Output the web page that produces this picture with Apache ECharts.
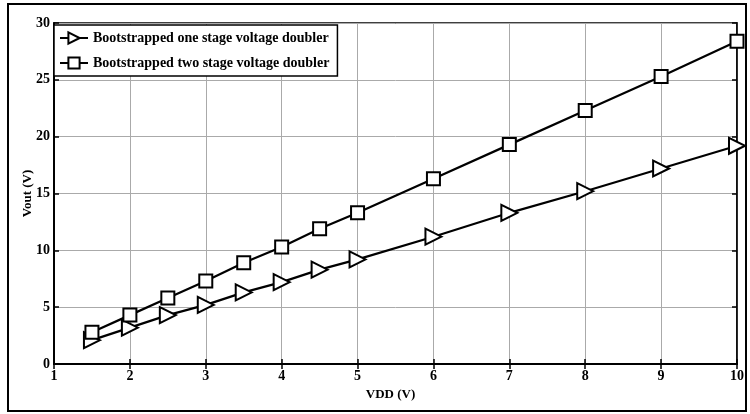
<!DOCTYPE html>
<html><head><meta charset="utf-8">
<script src="https://cdn.jsdelivr.net/npm/echarts@6/dist/echarts.min.js"></script>
<style>html,body{margin:0;padding:0;background:#fff}#c{width:750px;height:414px}</style>
</head><body><div id="c"></div>
<script>
const vdd = [1.5, 2, 2.5, 3, 3.5, 4, 4.5, 5, 6, 7, 8, 9, 10];
const oneStage = [2.1, 3.2, 4.3, 5.2, 6.3, 7.2, 8.3, 9.2, 11.2, 13.3, 15.2, 17.2, 19.2];
const twoStage = [2.8, 4.3, 5.8, 7.3, 8.9, 10.3, 11.9, 13.3, 16.3, 19.3, 22.3, 25.3, 28.4];
const seriesNames = ['Bootstrapped one stage voltage doubler', 'Bootstrapped two stage voltage doubler'];
const xName = 'VDD (V)';
const yName = 'Vout (V)';

const font = 'Liberation Serif';
const chart = echarts.init(document.getElementById('c'), null, {renderer: 'canvas'});
const gridLine = {show: true, lineStyle: {color: '#aaa', width: 1, type: 'solid'}};
chart.setOption({
  animation: false,
  backgroundColor: '#fff',
  graphic: [{type: 'rect', shape: {x: 8, y: 4, width: 738, height: 407}, style: {fill: 'none', stroke: '#000', lineWidth: 2}, z: 100}],
  grid: {left: 54, right: 13, top: 23, bottom: 50, show: true, borderColor: '#000', borderWidth: 1.5},
  legend: {
    orient: 'vertical', left: 54, top: 25, data: seriesNames,
    backgroundColor: '#fff', borderColor: '#000', borderWidth: 1.5, borderRadius: 0,
    padding: [6, 8, 6, 5], itemGap: 11, itemWidth: 28, itemHeight: 14,
    textStyle: {fontFamily: font, fontWeight: 'bold', fontSize: 14, color: '#000'}
  },
  xAxis: [{
    type: 'value', min: 1, max: 10, interval: 1,
    name: xName, nameLocation: 'middle', nameGap: 24, nameMoveOverlap: false,
    nameTextStyle: {fontFamily: font, fontWeight: 'bold', fontSize: 13, color: '#000', padding: [0, 10, 0, 0]},
    axisLine: {show: true, lineStyle: {color: '#000', width: 2}},
    axisTick: {show: true, inside: true, length: 5, lineStyle: {color: '#000', width: 1.5}},
    axisLabel: {fontFamily: font, fontWeight: 'bold', fontSize: 14, color: '#000', margin: 5},
    splitLine: gridLine
  }, {
    type: 'value', min: 1, max: 10, interval: 1, position: 'top',
    axisLine: {show: true, lineStyle: {color: '#000', width: 1.5}},
    axisTick: {show: true, inside: true, length: 5, lineStyle: {color: '#000', width: 1.5}},
    axisLabel: {show: false}, splitLine: {show: false}
  }],
  yAxis: [{
    type: 'value', min: 0, max: 30, interval: 5,
    name: yName, nameLocation: 'middle', nameGap: 20, nameMoveOverlap: false,
    nameTextStyle: {fontFamily: font, fontWeight: 'bold', fontSize: 13, color: '#000'},
    axisLine: {show: true, lineStyle: {color: '#000', width: 2}},
    axisTick: {show: true, inside: true, length: 5, lineStyle: {color: '#000', width: 1.5}},
    axisLabel: {fontFamily: font, fontWeight: 'bold', fontSize: 14, color: '#000', margin: 4},
    splitLine: gridLine
  }, {
    type: 'value', min: 0, max: 30, interval: 5, position: 'right',
    axisLine: {show: true, lineStyle: {color: '#000', width: 1.5}},
    axisTick: {show: true, inside: true, length: 5, lineStyle: {color: '#000', width: 1.5}},
    axisLabel: {show: false}, splitLine: {show: false}
  }],
  series: [{
    name: seriesNames[0], type: 'line',
    data: vdd.map((x, i) => [x, oneStage[i]]),
    symbol: 'triangle', symbolRotate: -90, symbolSize: 16,
    lineStyle: {color: '#000', width: 2.2},
    itemStyle: {color: '#fff', borderColor: '#000', borderWidth: 2},
    z: 3
  }, {
    name: seriesNames[1], type: 'line',
    data: vdd.map((x, i) => [x, twoStage[i]]),
    symbol: 'rect', symbolSize: 13,
    lineStyle: {color: '#000', width: 2.2},
    itemStyle: {color: '#fff', borderColor: '#000', borderWidth: 2},
    z: 3
  }]
});
</script></body></html>
